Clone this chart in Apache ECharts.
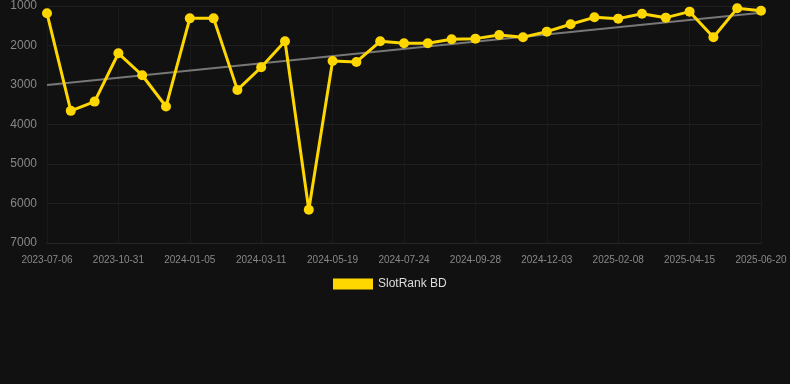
<!DOCTYPE html>
<html>
<head>
<meta charset="utf-8">
<script src="https://cdn.jsdelivr.net/npm/echarts@6/dist/echarts.min.js"></script>
<style>
html,body{margin:0;padding:0;background:#111111;}
#chart{width:790px;height:384px;}
</style>
</head>
<body>
<div id="chart"></div>
<script>
var dates = ["2023-07-06","2023-08-14","2023-09-22","2023-10-31","2023-11-22","2023-12-14","2024-01-05","2024-01-27","2024-02-18","2024-03-11","2024-04-03","2024-04-26","2024-05-19","2024-06-10","2024-07-02","2024-07-24","2024-08-15","2024-09-06","2024-09-28","2024-10-20","2024-11-11","2024-12-03","2024-12-25","2025-01-17","2025-02-08","2025-03-02","2025-03-24","2025-04-15","2025-05-07","2025-05-29","2025-06-20"];
var slotRank = [1185,3655,3420,2197,2753,3545,1313,1313,3124,2551,1894,6158,2391,2416,1894,1944,1944,1843,1826,1733,1792,1649,1463,1287,1320,1194,1295,1143,1792,1059,1118];
var trendStart = 3000;
var trendEnd = 1170;
var seriesName = "SlotRank BD";

var chart = echarts.init(document.getElementById('chart'));
chart.setOption({
  backgroundColor: '#111111',
  animation: false,
  grid: {left: 47, right: 29, top: 6, bottom: 141},
  legend: {
    data: [seriesName],
    top: 273,
    left: 328,
    icon: 'rect',
    itemWidth: 40,
    itemHeight: 11,
    textStyle: {color: '#dddddd', fontSize: 12, fontFamily: 'Liberation Sans, Arial, sans-serif'}
  },
  xAxis: {
    type: 'category',
    data: dates,
    boundaryGap: false,
    axisLine: {show: true, lineStyle: {color: '#262626'}},
    axisTick: {show: false},
    axisLabel: {interval: 2, color: '#888888', fontSize: 10, margin: 12, fontFamily: 'Liberation Sans, Arial, sans-serif'},
    splitLine: {show: true, interval: 2, lineStyle: {color: '#1a1a1a', width: 1}}
  },
  yAxis: {
    type: 'value',
    inverse: true,
    min: 1000,
    max: 7000,
    interval: 1000,
    axisLine: {show: false},
    axisTick: {show: false},
    axisLabel: {color: '#888888', fontSize: 12, margin: 10, fontFamily: 'Liberation Sans, Arial, sans-serif', formatter: function (v) { return String(v); }},
    splitLine: {lineStyle: {color: '#1f1f1f', width: 1}}
  },
  series: [
    {
      name: 'trend',
      type: 'line',
      data: [[0, trendStart], [dates.length - 1, trendEnd]],
      symbol: 'none',
      lineStyle: {color: '#777777', width: 2},
      z: 1,
      silent: true
    },
    {
      name: seriesName,
      type: 'line',
      data: slotRank,
      symbol: 'circle',
      symbolSize: 10,
      itemStyle: {color: '#FFD700'},
      lineStyle: {color: '#FFD700', width: 3},
      z: 2
    }
  ]
});
</script>
</body>
</html>
